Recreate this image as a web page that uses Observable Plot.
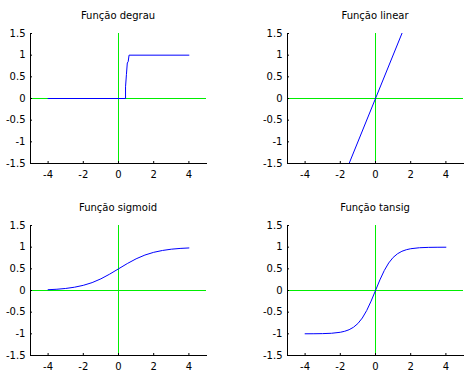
<!DOCTYPE html>
<html>
<head>
<meta charset="utf-8">
<script src="https://cdn.jsdelivr.net/npm/d3@7"></script>
<script src="https://cdn.jsdelivr.net/npm/@observablehq/plot@0.6"></script>
<style>
  html, body { margin: 0; padding: 0; background: #fff; }
  #root { position: relative; width: 474px; height: 385px; font-family: "DejaVu Sans", sans-serif; }
  .panel { position: absolute; width: 237px; height: 192px; }
  .panel svg { position: absolute; left: 0; top: 0; }
  .ttl { position: absolute; top: 10px; font-size: 10px; color: #000; text-align: center; white-space: nowrap; transform: translateX(-50%); }
</style>
</head>
<body>
<div id="root"></div>
<script>
const titles = ["Função degrau", "Função linear", "Função sigmoid", "Função tansig"];
const xTicks = [-4, -2, 0, 2, 4];
const yTicks = [-1.5, -1, -0.5, 0, 0.5, 1, 1.5];

const degrauX = [-4, 0.4, 0.4, 0.45, 0.5, 0.55, 0.6, 4];
const degrauY = [0, 0, 0.27, 0.55, 0.82, 0.85, 1, 1];

const linearX = [-4, 4];
const linearY = [-4, 4];

const sigX = [-4, -3.5, -3, -2.5, -2, -1.5, -1, -0.5, 0, 0.5, 1, 1.5, 2, 2.5, 3, 3.5, 4];
const sigY = [0.018, 0.029, 0.047, 0.076, 0.119, 0.182, 0.269, 0.378, 0.5, 0.622, 0.731, 0.818, 0.881, 0.924, 0.953, 0.971, 0.982];

const tanX = [-4, -3.5, -3, -2.5, -2, -1.75, -1.5, -1.25, -1, -0.75, -0.5, -0.25, 0, 0.25, 0.5, 0.75, 1, 1.25, 1.5, 1.75, 2, 2.5, 3, 3.5, 4];
const tanY = [-0.999, -0.998, -0.995, -0.987, -0.964, -0.941, -0.905, -0.848, -0.762, -0.635, -0.462, -0.245, 0, 0.245, 0.462, 0.635, 0.762, 0.848, 0.905, 0.941, 0.964, 0.987, 0.995, 0.998, 0.999];

const series = [[degrauX, degrauY], [linearX, linearY], [sigX, sigY], [tanX, tanY]];

const layouts = [
  {left: 0,   top: 0,   ml: 30, mr: 31, mt: 33, mb: 29},
  {left: 237, top: 0,   ml: 50, mr: 11, mt: 33, mb: 29},
  {left: 0,   top: 192, ml: 30, mr: 31, mt: 33, mb: 29},
  {left: 237, top: 192, ml: 50, mr: 11, mt: 33, mb: 29}
];

const root = document.getElementById("root");
const fmt = d => String(d);

series.forEach(([xs, ys], i) => {
  const L = layouts[i];
  const data = xs.map((x, j) => ({x, y: ys[j]}));
  const panel = document.createElement("div");
  panel.className = "panel";
  panel.style.left = L.left + "px";
  panel.style.top = L.top + "px";
  const chart = Plot.plot({
    width: 237,
    height: 192,
    marginLeft: L.ml,
    marginRight: L.mr,
    marginTop: L.mt,
    marginBottom: L.mb,
    style: {fontFamily: "DejaVu Sans, sans-serif", fontSize: "10px", color: "#000", background: "transparent", overflow: "visible"},
    x: {domain: [-5, 5]},
    y: {domain: [-1.5, 1.5]},
    marks: [
      Plot.ruleY([0], {stroke: "#00ee00", strokeWidth: 1}),
      Plot.ruleX([0], {stroke: "#00ee00", strokeWidth: 1}),
      Plot.line(data, {x: "x", y: "y", stroke: "#0000ff", strokeWidth: 1, clip: true}),
      Plot.axisX({ticks: xTicks, tickFormat: fmt, tickSize: -2, tickPadding: 9, stroke: "#000", fill: "#000", label: null}),
      Plot.axisY({ticks: yTicks, tickFormat: fmt, tickSize: -2, tickPadding: 7, stroke: "#000", fill: "#000", label: null}),
      Plot.frame({anchor: "left", stroke: "#000"}),
      Plot.frame({anchor: "bottom", stroke: "#000"})
    ]
  });
  panel.appendChild(chart);
  const t = document.createElement("div");
  t.className = "ttl";
  t.textContent = titles[i];
  t.style.left = (L.ml + (237 - L.ml - L.mr) / 2) + "px";
  panel.appendChild(t);
  root.appendChild(panel);
});
</script>
</body>
</html>
